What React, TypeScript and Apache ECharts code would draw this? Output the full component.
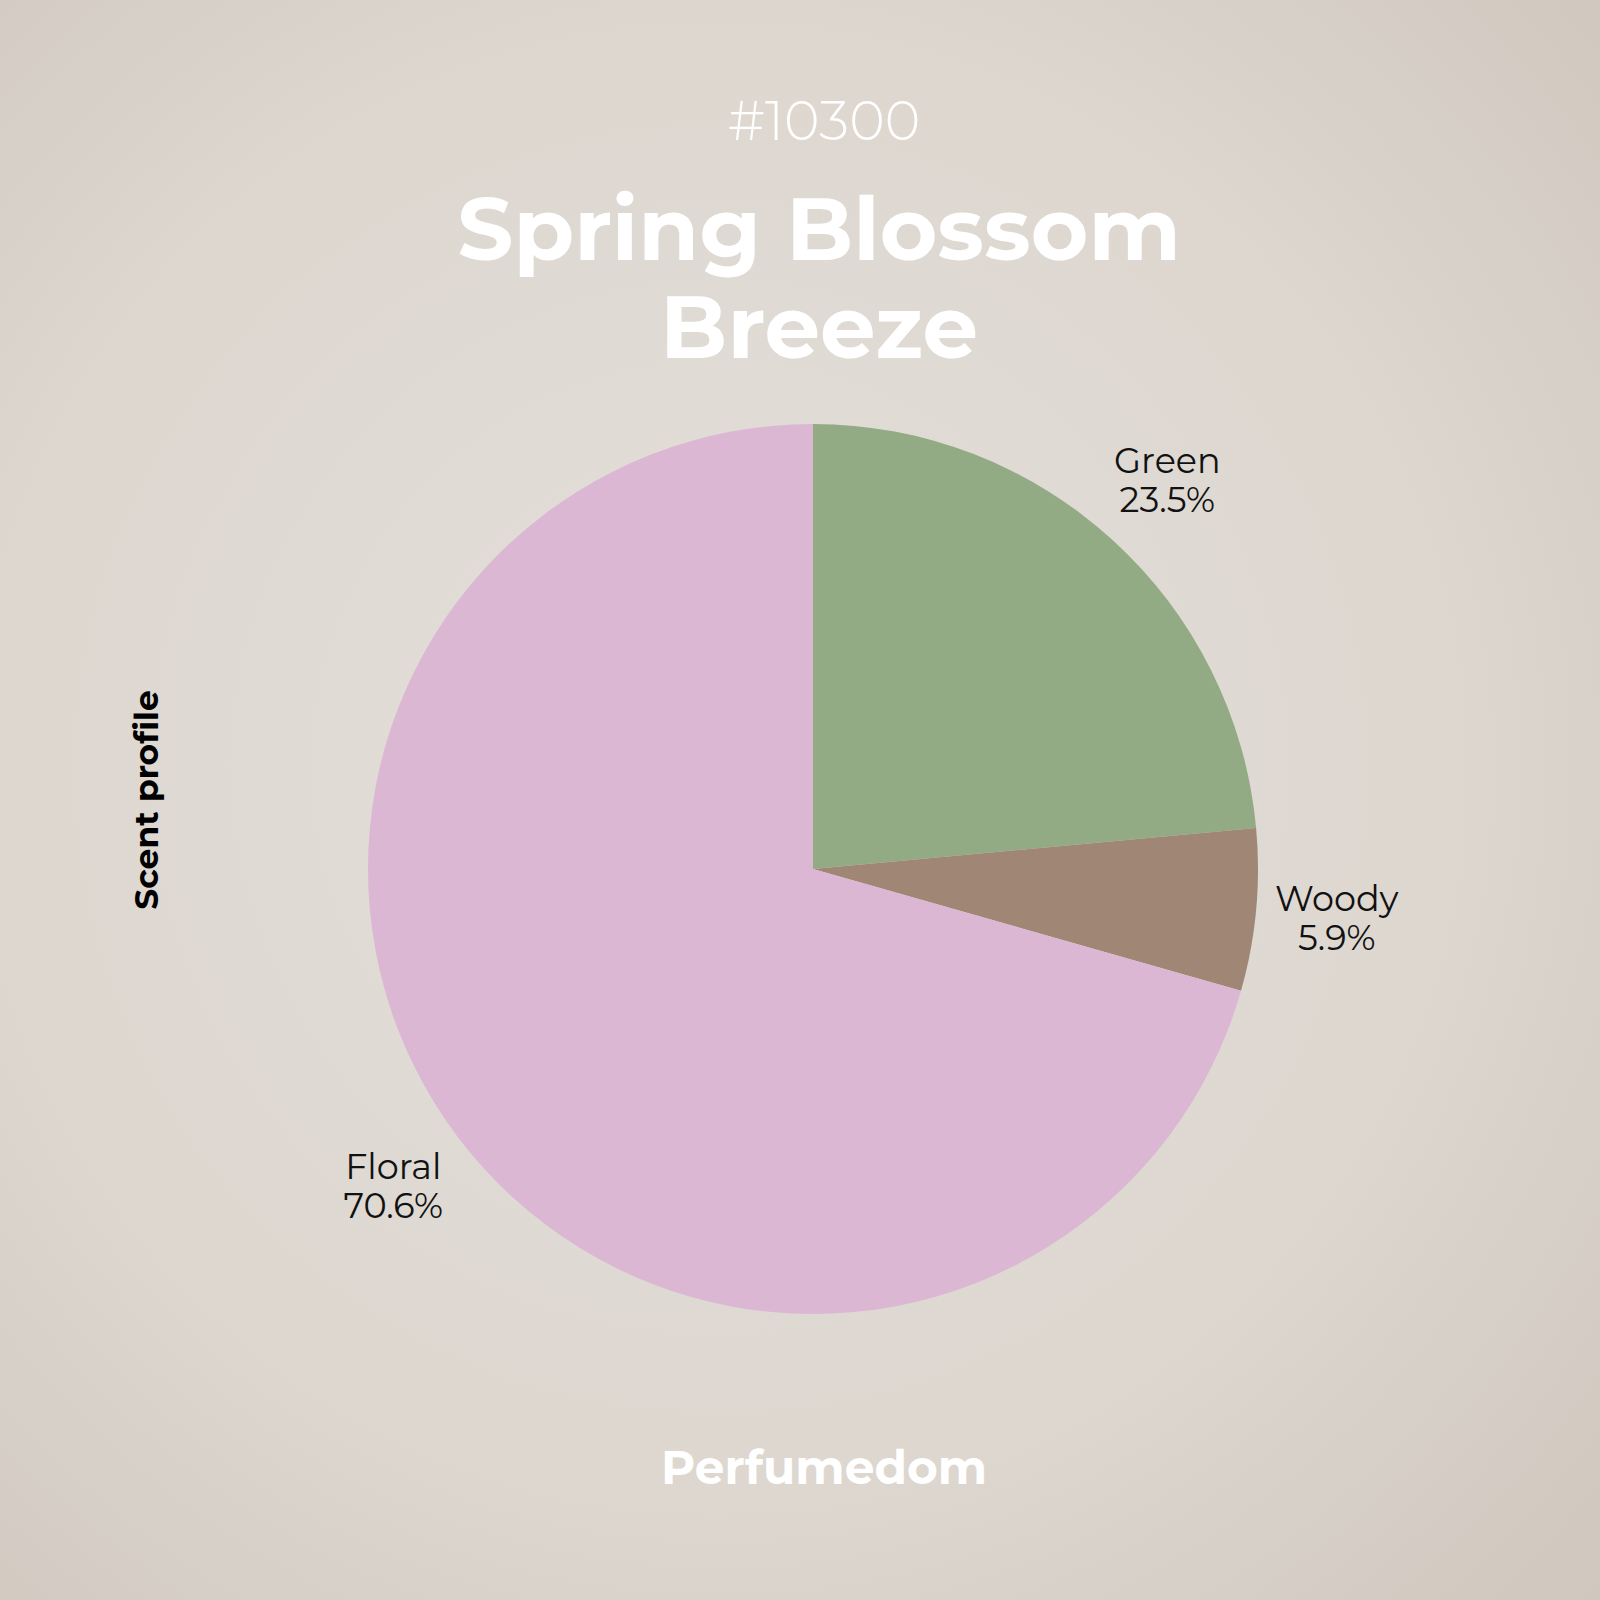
import { useEffect, useRef } from 'react';
import * as echarts from 'echarts';

const categories = ['Green', 'Woody', 'Floral'];
const values = [4, 1, 12];
const colors = ['#93AB85', '#9F8675', '#DBB7D4'];

const titleLines = ['Spring Blossom', 'Breeze'];

const FONT = 'Montserrat, Inter, "Noto Sans", sans-serif';
const TITLE_X = 819;

export default function App() {
  const chartRef = useRef<HTMLDivElement>(null);

  useEffect(() => {
    if (!chartRef.current) return;
    document.body.style.margin = '0';

    const chart = echarts.init(chartRef.current, null, { renderer: 'svg' });

    const pieData = categories.map((name, i) => ({
      name,
      value: values[i],
      itemStyle: { color: colors[i] },
    }));

    chart.setOption({
      animation: false,
      backgroundColor: new echarts.graphic.RadialGradient(0.45, 0.48, 0.75, [
        { offset: 0, color: '#E3DFD9' },
        { offset: 0.6, color: '#DDD7D0' },
        { offset: 1, color: '#D0C7BE' },
      ]),
      title: [
        {
          text: '#10300',
          left: TITLE_X,
          top: 89,
          textAlign: 'center',
          textStyle: { fontFamily: FONT, fontSize: 54, fontWeight: 300, color: '#FFFFFF', lineHeight: 54 },
        },
        // two title lines, ~98px apart
        ...titleLines.map((line, i) => ({
          text: line,
          left: TITLE_X,
          top: 184 + i * 98,
          textAlign: 'center',
          padding: 0,
          textStyle: { fontFamily: FONT, fontSize: 88, fontWeight: 'bold', color: '#FFFFFF', lineHeight: 88 },
        })),
        {
          text: 'Perfumedom',
          left: TITLE_X,
          top: 1439,
          textAlign: 'center',
          textStyle: { fontFamily: FONT, fontSize: 47, fontWeight: 'bold', color: '#FFFFFF', lineHeight: 47 },
        },
      ],
      graphic: [
        {
          type: 'text',
          x: 146,
          y: 800,
          rotation: Math.PI / 2,
          style: {
            text: 'Scent profile',
            fontFamily: FONT,
            fontSize: 33,
            fontWeight: 'bold',
            fill: '#000000',
            textAlign: 'center',
            textVerticalAlign: 'middle',
          },
        },
      ],
      series: [
        {
          type: 'pie',
          center: [813, 869],
          radius: [0, 445],
          startAngle: 90,
          clockwise: true,
          silent: true,
          label: { show: false },
          labelLine: { show: false },
          itemStyle: { borderWidth: 0 },
          data: pieData,
        },
        {
          // label ring, centred on a circle just outside the pie
          type: 'pie',
          center: [813, 869],
          radius: [480, 566],
          startAngle: 90,
          clockwise: true,
          silent: true,
          percentPrecision: 1,
          itemStyle: { color: 'rgba(0,0,0,0)' },
          label: {
            show: true,
            position: 'inside',
            formatter: '{b}\n{d}%',
            fontFamily: FONT,
            fontSize: 35,
            lineHeight: 39,
            color: '#111111',
          },
          labelLine: { show: false },
          data: categories.map((name, i) => ({ name, value: values[i] })),
        },
      ],
    });

    return () => {
      chart.dispose();
    };
  }, []);

  return <div ref={chartRef} style={{ width: 1600, height: 1600 }} />;
}
